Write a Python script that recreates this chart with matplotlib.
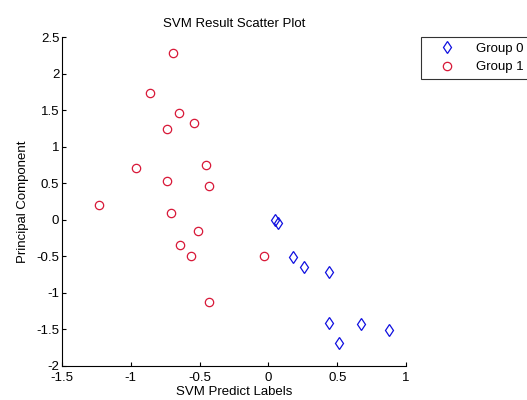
import matplotlib
matplotlib.use("Agg")
import matplotlib.pyplot as plt

plt.rcParams['font.family'] = ['Liberation Sans', 'DejaVu Sans']

# group 0 (blue diamonds)
g0_x = [0.05, 0.07, 0.18, 0.26, 0.44, 0.44, 0.67, 0.88, 0.51]
g0_y = [0.00, -0.05, -0.51, -0.64, -0.71, -1.41, -1.42, -1.51, -1.68]

# group 1 (red circles)
g1_x = [-0.69, -0.86, -0.65, -0.54, -0.74, -0.96, -0.45, -0.74, -0.43,
        -1.23, -0.71, -0.51, -0.64, -0.56, -0.03, -0.43]
g1_y = [2.28, 1.73, 1.46, 1.33, 1.24, 0.71, 0.75, 0.53, 0.46,
        0.20, 0.09, -0.16, -0.34, -0.49, -0.49, -1.12]

xticks = [-1.5, -1, -0.5, 0, 0.5, 1]
yticks = [-2, -1.5, -1, -0.5, 0, 0.5, 1, 1.5, 2, 2.5]

fs = 9.5

fig = plt.figure(figsize=(5.27, 4.0), dpi=100)
ax = fig.add_axes([0.1176, 0.085, 0.6528, 0.8225])

h0, = ax.plot(g0_x, g0_y, linestyle='none', marker='d', markersize=6.5,
              markerfacecolor='none', markeredgecolor='#1010e0', markeredgewidth=0.9,
              label='Group 0')
h1, = ax.plot(g1_x, g1_y, linestyle='none', marker='o', markersize=6,
              markerfacecolor='none', markeredgecolor='#d81838', markeredgewidth=0.9,
              label='Group 1')

ax.set_xlim(-1.5, 1)
ax.set_ylim(-2, 2.5)
ax.set_xticks(xticks)
ax.set_xticklabels([f"{t:g}" for t in xticks])
ax.set_yticks(yticks)
ax.set_yticklabels([f"{t:g}" for t in yticks])
ax.tick_params(direction='in', length=3, labelsize=fs, width=0.8)
ax.tick_params(axis='y', pad=2)
ax.tick_params(axis='x', pad=4)
ax.spines['top'].set_visible(False)
ax.spines['right'].set_visible(False)

ax.set_title('SVM Result Scatter Plot', fontsize=fs, pad=7)
ax.set_xlabel('SVM Predict Labels', fontsize=fs, labelpad=2)
ax.set_ylabel('Principal Component', fontsize=fs, labelpad=5)

leg = fig.legend(handles=[h0, h1], loc='upper left', bbox_to_anchor=(0.799, 0.908),
                 borderaxespad=0, fontsize=fs, frameon=True, fancybox=False,
                 edgecolor='black', handlelength=3.0, borderpad=0.45,
                 labelspacing=0.45, handletextpad=0.7)
leg.get_frame().set_linewidth(0.8)

fig.savefig('out.png', dpi=100)
